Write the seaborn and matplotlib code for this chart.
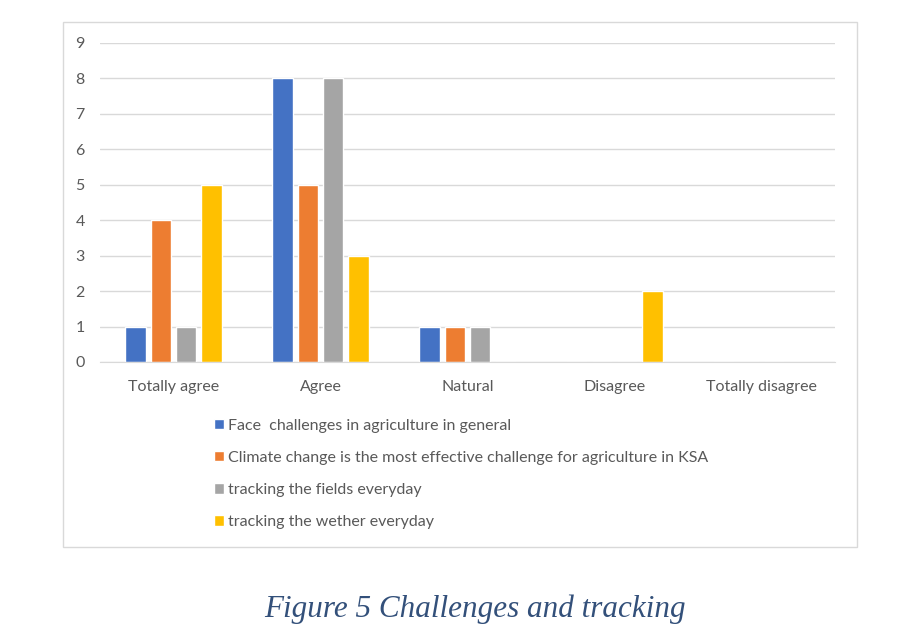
import pandas as pd
import matplotlib.pyplot as plt
import seaborn as sns
from matplotlib.patches import Rectangle

# ----------------------------------------
# data
# ----------------------------------------
categories = ["Totally agree", "Agree", "Natural", "Disagree", "Totally disagree"]
series = [
    "Face  challenges in agriculture in general",
    "Climate change is the most effective challenge for agriculture in KSA",
    "tracking the fields everyday",
    "tracking the wether everyday",
]
face_challenges = [1, 8, 1, 0, 0]
climate_change = [4, 5, 1, 0, 0]
tracking_fields = [1, 8, 1, 0, 0]
tracking_weather = [5, 3, 0, 2, 0]
colors = ["#4472C4", "#ED7D31", "#A5A5A5", "#FFC000"]

rows = []
for name, vals in zip(series, [face_challenges, climate_change, tracking_fields, tracking_weather]):
    for cat, v in zip(categories, vals):
        rows.append({"category": cat, "series": name, "value": v})
df = pd.DataFrame(rows)

# ----------------------------------------
# figure
# ----------------------------------------
sns.set_style("white")
plt.rcParams["font.family"] = ["Lato", "DejaVu Sans"]

fig = plt.figure(figsize=(9.22, 6.42), dpi=100)
ax = fig.add_axes([100 / 922, 1 - 362 / 642, 735 / 922, 319 / 642])

sns.barplot(data=df, x="category", y="value", hue="series", order=categories,
            hue_order=series, palette=colors, width=0.69, gap=0.2,
            saturation=1, ax=ax, legend=True)

ax.set_ylim(0, 9)
ax.set_xlim(-0.5, 4.5)
ax.set_yticks(range(10))
ax.grid(axis="y", color="#D9D9D9", lw=1)
ax.set_axisbelow(True)
for s in ["top", "right", "left"]:
    ax.spines[s].set_visible(False)
ax.spines["bottom"].set_color("#D9D9D9")
ax.set_xlabel("")
ax.set_ylabel("")
ax.tick_params(axis="both", length=0, labelsize=11.5, labelcolor="#595959")
ax.tick_params(axis="y", pad=11)
ax.tick_params(axis="x", pad=13)

handles, labels = ax.get_legend_handles_labels()
ax.get_legend().remove()
fig.legend(handles, labels, loc="upper left", bbox_to_anchor=(206 / 922, 1 - 411 / 642),
           frameon=False, fontsize=11.5, labelcolor="#595959", handlelength=0.6,
           handleheight=0.6, handletextpad=0.3, labelspacing=1.13, borderpad=0)

# outer chart frame
fig.patches.append(Rectangle((63 / 922, 1 - 547 / 642), 794 / 922, 525 / 642,
                             transform=fig.transFigure, fill=False,
                             edgecolor="#D9D9D9", lw=1))

fig.text(475 / 922, 1 - 609 / 642, "Figure 5 Challenges and tracking",
         family="Liberation Serif", style="italic", fontsize=22.4,
         color="#33507A", ha="center", va="center")

plt.savefig("out.png", dpi=100)
